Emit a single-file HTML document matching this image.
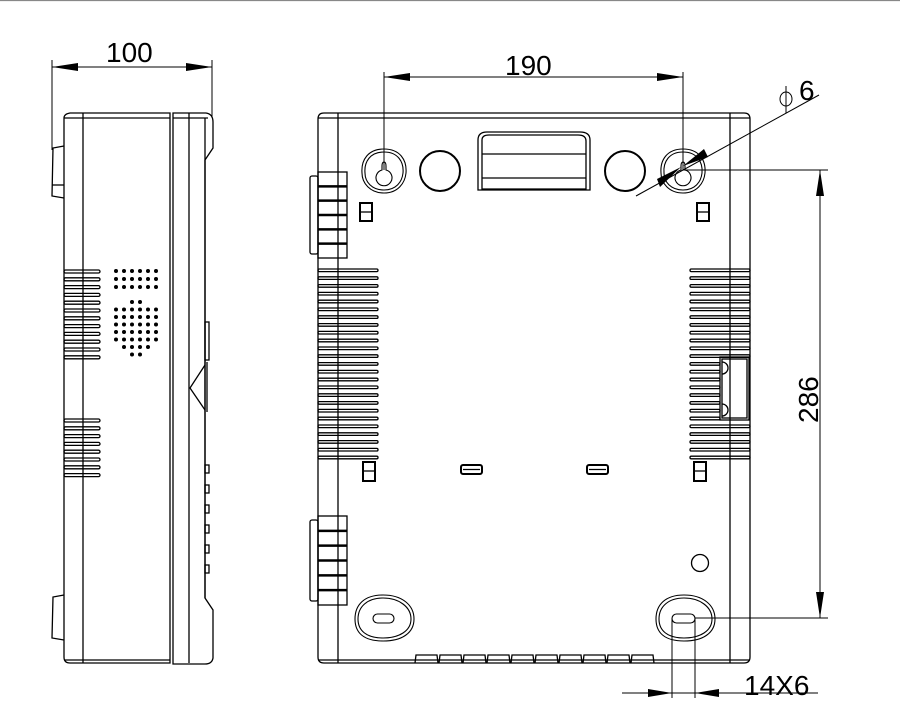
<!DOCTYPE html>
<html><head><meta charset="utf-8"><style>
html,body{margin:0;padding:0;background:#fff;width:900px;height:720px;overflow:hidden}
svg{display:block}
svg text{font-family:"Liberation Sans",sans-serif;fill:#000;stroke:none}
</style></head><body>
<svg width="900" height="720" viewBox="0 0 900 720" fill="none" stroke="#000" stroke-width="1.3">
<line x1="0" y1="0.5" x2="900" y2="0.5" stroke="#888"/>
<!-- SIDE VIEW -->
<path fill="none" d="M64 118 Q64 114 70 113 L170 113 L170 663 L70 663 Q64 663 64 657 Z"/>
<path fill="none" d="M173 113 L206 113 Q213 114 213 122 L213 148 L205 160 L205 598 L213 610 L213 658 Q212 664 205 664 L173 664 Z"/>
<line x1="64" y1="118" x2="170" y2="118"/><line x1="173" y1="118" x2="208" y2="118"/>
<line x1="83" y1="113" x2="83" y2="663"/>
<line x1="189" y1="113" x2="189" y2="663"/><line x1="205" y1="118" x2="205" y2="598"/>
<line x1="64" y1="660" x2="170" y2="660"/>
<path fill="none" d="M64 146 L53 148 L52 196 L64 198"/><line x1="52" y1="185" x2="64" y2="185"/>
<path fill="none" d="M64 595 L53 597 L52 638 L64 640"/>
<path fill="none" d="M205 365 L190 388 L205 410"/><line x1="207" y1="362" x2="207" y2="412"/>
<rect fill="none" x="205" y="322" width="4" height="38"/>
<rect fill="none" x="205" y="465" width="4" height="8"/><rect fill="none" x="205" y="485" width="4" height="8"/>
<rect fill="none" x="205" y="505" width="4" height="8"/><rect fill="none" x="205" y="525" width="4" height="8"/>
<rect fill="none" x="205" y="545" width="4" height="8"/><rect fill="none" x="205" y="565" width="4" height="8"/>
<g id="sideV"></g>
<g id="dots" fill="#000" stroke="none"></g>
<!-- FRONT VIEW -->
<path fill="none" d="M318 119 Q318 113 324 113 L744 113 Q750 113 750 119 L750 657 Q750 663 744 663 L324 663 Q318 663 318 657 Z"/>
<line x1="318" y1="118" x2="750" y2="118"/>
<line x1="318" y1="660" x2="750" y2="660"/>
<line x1="338" y1="113" x2="338" y2="663"/>
<line x1="730" y1="113" x2="730" y2="663"/>
<g id="frontV"></g>
<g id="tabs"></g>
<g stroke-width="1.1">
<path fill="#fff" d="M384 149 C400 149 407 160 406 173 C405 183 398 193 384 193 C370 193 362 183 362 173 C361 160 368 149 384 149 Z"/>
<path fill="#fff" d="M384 152 C398 152 404 162 403 173 C402 182 396 190 384 190 C372 190 365 182 365 173 C364 162 370 152 384 152 Z"/>
<path fill="#fff" d="M382 166 Q382 162 384 162 Q386 162 386 166 L386 170 A8 8 0 1 1 382 170 Z"/>
<path fill="#fff" d="M683 149 C699 149 706 160 705 173 C704 183 697 193 683 193 C669 193 661 183 661 173 C660 160 667 149 683 149 Z"/>
<path fill="#fff" d="M683 152 C697 152 703 162 702 173 C701 182 695 190 683 190 C671 190 664 182 664 173 C663 162 669 152 683 152 Z"/>
<path fill="#fff" d="M681 166 Q681 162 683 162 Q685 162 685 166 L685 170 A8 8 0 1 1 681 170 Z"/>
</g>
<circle fill="#fff" cx="440" cy="171" r="20" stroke-width="2"/>
<circle fill="#fff" cx="625" cy="171" r="20" stroke-width="2"/>
<path fill="none" d="M478 140 Q478 132 487 132 L580 132 Q590 132 590 140 L590 190 L478 190 Z"/>
<path fill="none" d="M482 140 Q482 135 489 135 L578 135 Q586 135 586 141 L586 189 L482 189 Z"/>
<line x1="482" y1="154" x2="586" y2="154"/><line x1="482" y1="178" x2="586" y2="178"/>
<rect fill="none" x="360" y="203" width="12" height="18" stroke-width="2"/><line x1="360" y1="212" x2="372" y2="212"/>
<rect fill="none" x="697" y="203" width="12" height="18" stroke-width="2"/><line x1="697" y1="212" x2="709" y2="212"/>
<rect fill="none" x="363" y="462" width="12" height="19" stroke-width="2"/><line x1="363" y1="471" x2="375" y2="471"/>
<rect fill="none" x="694" y="462" width="12" height="19" stroke-width="2"/><line x1="694" y1="471" x2="706" y2="471"/>
<rect fill="none" x="461" y="465" width="21" height="9" rx="2" stroke-width="2"/><line x1="463" y1="469.5" x2="480" y2="469.5"/>
<rect fill="none" x="587" y="465" width="21" height="9" rx="2" stroke-width="2"/><line x1="589" y1="469.5" x2="606" y2="469.5"/>
<rect fill="none" x="720" y="357" width="29" height="63"/><rect fill="none" x="722" y="359" width="25" height="59"/>
<path fill="none" d="M722 362 A6 6 0 0 1 722 374"/><path fill="none" d="M722 404 A6 6 0 0 1 722 416"/>
<circle fill="#fff" cx="700" cy="563" r="8.5"/>
<g stroke-width="1.1">
<path fill="#fff" d="M383 595 C402 595 414 605 414 619 C414 633 402 641 383 641 C364 641 355 633 355 619 C355 605 364 595 383 595 Z"/>
<path fill="#fff" d="M383 598 C399 598 411 607 411 619 C411 631 399 638 383 638 C367 638 358 631 358 619 C358 607 367 598 383 598 Z"/>
<rect fill="#fff" x="373" y="614" width="21" height="9" rx="4.5"/>
<path fill="#fff" d="M684 595 C703 595 715 605 715 619 C715 633 703 641 684 641 C665 641 656 633 656 619 C656 605 665 595 684 595 Z"/>
<path fill="#fff" d="M684 598 C700 598 712 607 712 619 C712 631 700 638 684 638 C668 638 659 631 659 619 C659 607 668 598 684 598 Z"/>
<rect fill="#fff" x="672" y="614" width="23" height="9" rx="4.5"/>
</g>
<g id="btabs"></g>
<g stroke-width="1">
<line x1="52" y1="60" x2="52" y2="150"/><line x1="212" y1="60" x2="212" y2="118"/>
<line x1="52" y1="67" x2="212" y2="67"/>
<line x1="384" y1="72" x2="384" y2="170"/><line x1="683" y1="72" x2="683" y2="170"/>
<line x1="384" y1="77" x2="683" y2="77"/>
<line x1="683" y1="170" x2="828" y2="170"/><line x1="695" y1="618" x2="828" y2="618"/>
<line x1="820" y1="170" x2="820" y2="618"/>
<line x1="672" y1="618" x2="672" y2="698"/><line x1="695" y1="618" x2="695" y2="698"/>
<line x1="622" y1="693" x2="818" y2="693"/>
<line x1="636" y1="196" x2="819" y2="95"/>
<line x1="786" y1="86" x2="786" y2="113"/>
</g>
<g fill="#000" stroke="none">
<polygon points="52,67 78,63 78,71"/><polygon points="212,67 186,63 186,71"/>
<polygon points="384,77 410,73 410,81"/><polygon points="683,77 657,73 657,81"/>
<polygon points="820,170 816,196 824,196"/><polygon points="820,618 816,592 824,592"/>
<polygon points="672,693 648,689 648,697"/><polygon points="695,693 719,689 719,697"/>
<polygon points="683,166 704,149 708,157"/><polygon points="681,167 660,187 657,179"/>
</g>
<ellipse fill="none" cx="786" cy="99" rx="6" ry="7" stroke-width="1"/>
<text x="106" y="62" font-size="28">100</text>
<text x="505" y="75" font-size="28">190</text>
<text x="799" y="100" font-size="28">6</text>
<text x="744" y="695" font-size="28">14X6</text>
<text transform="translate(818,423) rotate(-90)" font-size="28">286</text>
</svg>
<script>
var NS="http://www.w3.org/2000/svg";
function el(p,t,a){var e=document.createElementNS(NS,t);if(t!=="circle"||p!=="dots")e.setAttribute("fill","none");for(var k in a)e.setAttribute(k,a[k]);document.getElementById(p).appendChild(e);}
for(var i=0;i<12;i++){var y=270+i*7.8;el("sideV","rect",{x:64,y:y,width:36,height:3,rx:1.5});}
for(var i=0;i<8;i++){var y=419+i*7.8;el("sideV","rect",{x:64,y:y,width:36,height:3,rx:1.5});}
for(var r=0;r<3;r++)for(var c=0;c<6;c++)el("dots","circle",{cx:116+c*8,cy:271+r*8,r:2});
var rows=[[2,3],[0,5],[0,5],[0,5],[0,5],[0,5],[1,4],[2,3]];
for(var r=0;r<rows.length;r++)for(var c=rows[r][0];c<=rows[r][1];c++)el("dots","circle",{cx:116+c*8,cy:302+r*7.5,r:2});
for(var i=0;i<25;i++){var y=269+i*7.8;el("frontV","rect",{x:318,y:y,width:60,height:2.6,rx:1.3});
var w=(y>355&&y<422)?30:60;el("frontV","rect",{x:690,y:y,width:w,height:2.6,rx:1.3});}
[[172,258],[516,605]].forEach(function(t){el("tabs","rect",{x:310,y:t[0]+4,width:8,height:t[1]-t[0]-8,rx:2});
el("tabs","rect",{x:318,y:t[0],width:29,height:t[1]-t[0]});
var h=(t[1]-t[0])/6;for(var k=1;k<6;k++)el("tabs","line",{x1:318,y1:t[0]+k*h,x2:347,y2:t[0]+k*h,"stroke-width":2.5});});
for(var i=0;i<10;i++){var x=415+i*24;el("btabs","path",{d:"M"+x+" 663 L"+(x+1)+" 655 L"+(x+22)+" 655 L"+(x+23)+" 663"});}
</script>
</body></html>
